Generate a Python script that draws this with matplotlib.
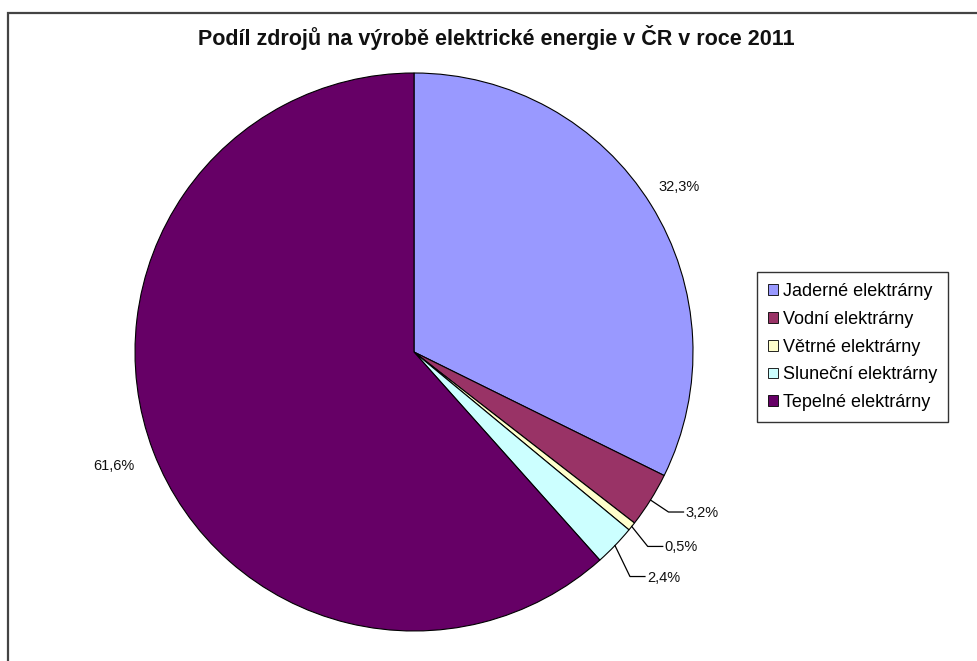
import numpy as np
import matplotlib.pyplot as plt
from matplotlib.patches import Patch, Rectangle

plt.rcParams['font.family'] = ['Liberation Sans', 'DejaVu Sans']

TITLE = "Podíl zdrojů na výrobě elektrické energie v ČR v roce 2011"
SOURCES = ["Jaderné elektrárny", "Vodní elektrárny", "Větrné elektrárny",
           "Sluneční elektrárny", "Tepelné elektrárny"]
SHARES = [32.3, 3.2, 0.5, 2.4, 61.6]
COLORS = ["#9999FF", "#993366", "#FFFFCC", "#CCFFFF", "#660066"]

W, H = 978, 661
CX, CY, R = 414, H - 352, 279

fig = plt.figure(figsize=(W / 100, H / 100), dpi=100)
ax = fig.add_axes([0, 0, 1, 1])

wedges, _ = ax.pie(SHARES, colors=COLORS, startangle=90, counterclock=False,
                   center=(CX, CY), radius=R,
                   wedgeprops=dict(edgecolor="black", linewidth=0.8))
ax.set_xlim(0, W)
ax.set_ylim(0, H)
ax.set_aspect("auto")
ax.axis("off")


def fmt(v):
    return f"{v:.1f}".replace(".", ",") + "%"


# large slices: label placed just outside the rim
far_labels = {0: 1.12, 4: 1.15}
# small slices: leader line (elbow offset in px) then horizontal tail
leaders = {1: (18, 12), 2: (16, 20), 3: (15, 31)}

for i, w in enumerate(wedges):
    mid = np.deg2rad((w.theta1 + w.theta2) / 2)
    if i in far_labels:
        f = far_labels[i]
        ax.text(CX + f * R * np.cos(mid), CY + f * R * np.sin(mid), fmt(SHARES[i]),
                ha="center", va="center", fontsize=10.5, color="#111111")
    else:
        ex, ey = CX + R * np.cos(mid), CY + R * np.sin(mid)
        dx, dy = leaders[i]
        bx, by = ex + dx, ey - dy
        ax.plot([ex, bx, bx + 15], [ey, by, by], color="black", lw=0.9)
        ax.text(bx + 17, by - 1, fmt(SHARES[i]), ha="left", va="center",
                fontsize=10.5, color="#111111")

ax.text(496, H - 38, TITLE, ha="center", va="center", fontsize=15.5,
        fontweight="bold", color="#111111")

# outer chart frame, running off the right and bottom edges
ax.add_patch(Rectangle((8, -20), W + 20, H - 13 + 20, fill=False,
                       edgecolor="#444444", linewidth=1.6))

handles = [Patch(facecolor=c, edgecolor="black", linewidth=0.6, label=s)
           for s, c in zip(SOURCES, COLORS)]
leg = ax.legend(handles=handles, loc="upper left",
                bbox_to_anchor=(757 / W, 1 - 272 / H), fontsize=13,
                frameon=True, fancybox=False, handlelength=0.55,
                handleheight=0.55, handletextpad=0.3, labelspacing=0.6,
                borderpad=0.6, borderaxespad=0)
leg.get_frame().set_edgecolor("black")
leg.get_frame().set_linewidth(1.0)

fig.savefig("out.png", dpi=100)
